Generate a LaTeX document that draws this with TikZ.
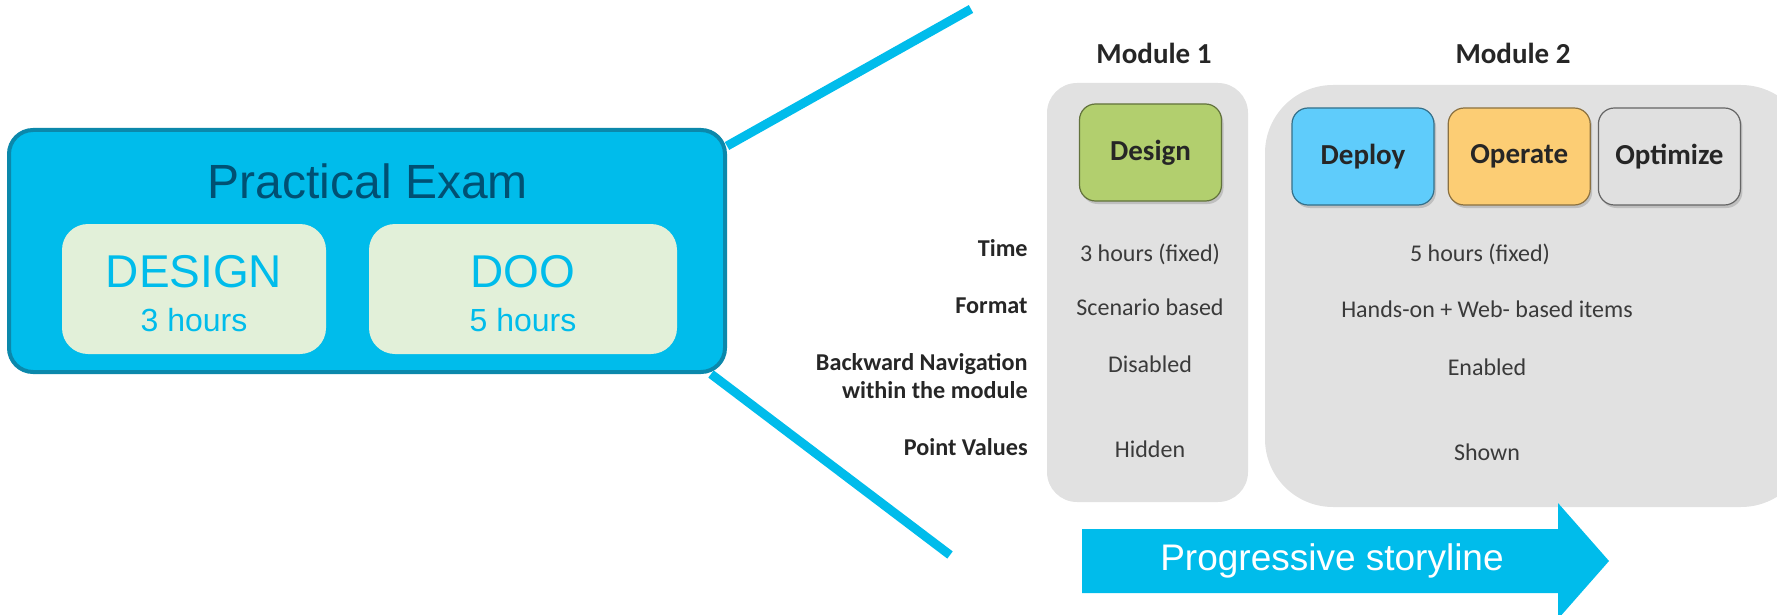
\documentclass[tikz,border=0pt]{standalone}
\usepackage{fontspec}
\setmainfont{Liberation Sans}
\newfontfamily\calibri{Carlito}
\usetikzlibrary{positioning, calc, shadows, backgrounds}

\definecolor{ciscoblue}{HTML}{00BCEB}
\definecolor{examrim}{HTML}{0B88AB}
\definecolor{examtxt}{HTML}{005073}
\definecolor{mint}{HTML}{E2F0D9}
\definecolor{panelgray}{HTML}{E1E1E1}
\definecolor{designgreen}{HTML}{B2CF6E}
\definecolor{deployblue}{HTML}{5FCCFB}
\definecolor{operateorange}{HTML}{FCCD74}
\definecolor{optgray}{HTML}{E0E0E0}
\definecolor{inkgray}{HTML}{262626}
\definecolor{valgray}{HTML}{3A3A3A}

\begin{document}
\begin{tikzpicture}[x=0.5pt, y=-0.5pt, node distance=6.5pt,
  exam/.style={draw=examrim, line width=2pt, fill=ciscoblue, rounded corners=12pt,
               minimum width=358pt, minimum height=121pt},
  track/.style={fill=mint, rounded corners=13pt, minimum height=65pt},
  bigtxt/.style={text=ciscoblue, font=\fontsize{23}{26}\selectfont},
  hrstxt/.style={text=ciscoblue, font=\fontsize{16}{18}\selectfont},
  panel/.style={fill=panelgray},
  phase/.style={draw, line width=0.6pt, rounded corners=8pt, minimum width=71pt,
                minimum height=48.5pt, text=inkgray,
                font=\calibri\bfseries\fontsize{14.5}{16}\selectfont,
                drop shadow={opacity=0.35, shadow xshift=1pt, shadow yshift=-1.5pt}},
  modhead/.style={font=\calibri\bfseries\fontsize{14.5}{16}\selectfont, text=inkgray},
  rowlbl/.style={anchor=east, align=right, inner sep=0pt, text=inkgray,
                 font=\calibri\bfseries\fontsize{12.1}{14}\selectfont},
  cell/.style={inner sep=0pt, text=valgray, font=\calibri\fontsize{12}{14}\selectfont},
  link/.style={draw=ciscoblue, line width=4.5pt}]

  \useasboundingbox (0,0) rectangle (1777,615);

  % exam overview on the left
  \node[exam] (exam) at (367,251) {};
  \node[text=examtxt, font=\fontsize{24}{28}\selectfont] (title) at (368,181) {Practical Exam};
  \node[track, minimum width=132pt] (dsg) at (194,289) {};
  \node[track, minimum width=154pt] (doo) at (523,289) {};
  \node[bigtxt] (dsgname) at ([yshift=8.5pt]dsg.center) {DESIGN};
  \node[hrstxt] (dsghrs)  at ([yshift=-15.5pt]dsg.center) {3 hours};
  \node[bigtxt] (dooname) at ([yshift=8.5pt]doo.center) {DOO};
  \node[hrstxt] (doohrs)  at ([yshift=-15.5pt]doo.center) {5 hours};

  % fan out to the module table
  \coordinate (fanup) at (971,9);
  \coordinate (fandown) at (950,555);
  \begin{scope}[on background layer]
    \draw[link] ([yshift=-9pt]exam.north east) -- (fanup);
    \draw[link] ([xshift=-8pt]exam.south east) -- (fandown);
  \end{scope}

  % module panels
  \node[panel, rounded corners=15pt, minimum width=100.5pt, minimum height=209.5pt] (mod1) at (1147.5,292.5) {};
  \node[panel, rounded corners=34pt, minimum width=272pt, minimum height=211pt] (mod2) at (1537,296) {};
  \node[modhead] (head1) at (1154,53) {Module 1};
  \node[modhead] (head2) at (1513,53) {Module 2};

  \node[phase, fill=designgreen, draw=designgreen!55!black] (des) at (1150.5,152.5) {Design};
  \node[phase, fill=deployblue, draw=deployblue!55!black] (dep) at (1363,156.5) {Deploy};
  \node[phase, fill=operateorange, draw=operateorange!55!black, right=of dep] (opr) {Operate};
  \node[phase, fill=optgray, draw=optgray!45!black, right=3.5pt of opr] (opt) {Optimize};

  % rows
  \node[rowlbl] (time) at (1028,248) {Time};
  \node[rowlbl] (fmt)  at (1028,306) {Format};
  \node[rowlbl] (nav)  at (1028,376) {Backward Navigation\\within the module};
  \node[rowlbl] (pts)  at (1028,447) {Point Values};

  \node[cell] (time1) at (1150,254) {3 hours (fixed)};
  \node[cell] (fmt1)  at (1150,307) {Scenario based};
  \node[cell] (nav1)  at (1150,364) {Disabled};
  \node[cell] (pts1)  at (1150,449) {Hidden};
  \node[cell] (time2) at (1480,254) {5 hours (fixed)};
  \node[cell] (fmt2)  at (1487,309) {Hands-on + Web- based items};
  \node[cell] (nav2)  at (1487,367) {Enabled};
  \node[cell] (pts2)  at (1487,452) {Shown};

  % storyline arrow
  \fill[ciscoblue] (1082,529) -- (1558,529) -- (1558,503) -- (1609,561)
    -- (1558,619) -- (1558,593) -- (1082,593) -- cycle;
  \node[text=white, font=\fontsize{18.5}{22}\selectfont] (story) at (1332,561) {Progressive storyline};
\end{tikzpicture}
\end{document}
